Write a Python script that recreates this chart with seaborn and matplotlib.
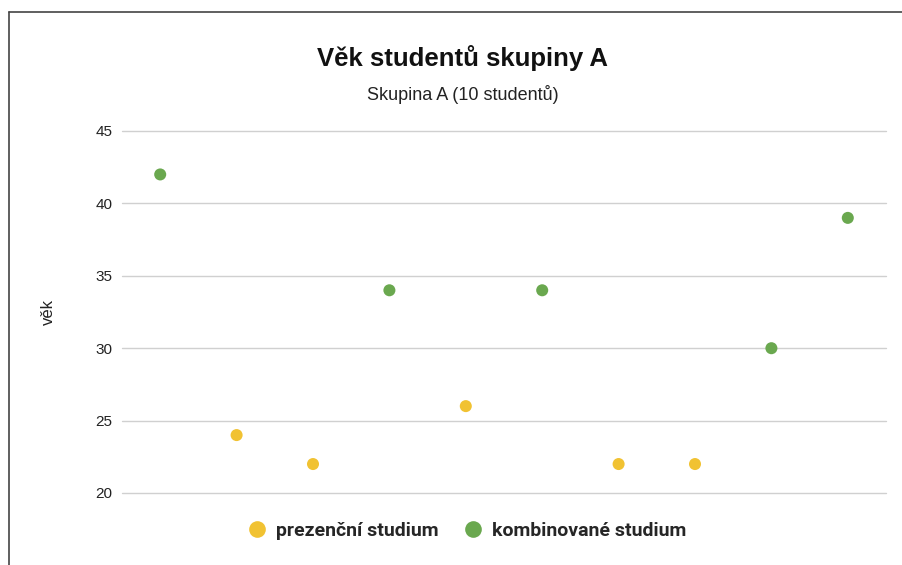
import seaborn as sns
import matplotlib.pyplot as plt
import pandas as pd
from matplotlib.lines import Line2D

# data
students = [1, 2, 3, 4, 5, 6, 7, 8, 9, 10]
ages = [42, 24, 22, 34, 26, 34, 22, 22, 30, 39]
study = ["kombinované studium", "prezenční studium", "prezenční studium",
         "kombinované studium", "prezenční studium", "kombinované studium",
         "prezenční studium", "prezenční studium", "kombinované studium",
         "kombinované studium"]
groups = ["prezenční studium", "kombinované studium"]
colors = {"prezenční studium": "#f1c232", "kombinované studium": "#6aa84f"}
yticks = [20, 25, 30, 35, 40, 45]

df = pd.DataFrame({"student": students, "vek": ages, "studium": study})

sns.set_style("white")
plt.rcParams['font.family'] = ['Liberation Sans', 'DejaVu Sans']

fig = plt.figure(figsize=(9.03, 5.65), dpi=100)
ax = fig.add_axes([122/903, 1-493/565, 764/903, 362/565])

sns.scatterplot(data=df, x="student", y="vek", hue="studium", hue_order=groups,
                palette=colors, s=75, edgecolor="none", ax=ax, legend=False, zorder=3)

ax.set_xlim(0.5, 10.5)
ax.set_ylim(20, 45)
ax.set_yticks(yticks)
ax.set_xticks([])
ax.grid(axis="y", color="#d0d0d0", linewidth=1)
for line in ax.get_ygridlines():
    line.set_clip_on(False)
for s in ax.spines.values():
    s.set_visible(False)
ax.tick_params(axis="y", length=0, labelsize=11, labelcolor="#222222", pad=7)
ax.set_xlabel("")
ax.set_ylabel("věk", fontsize=12, color="#222222")
ax.yaxis.set_label_coords((56-122)/764, 0.5)

fig.text(463/903, 1-58/565, "Věk studentů skupiny A", ha="center", va="center",
         fontsize=18.5, fontweight="bold", color="#111111")
fig.text(463/903, 1-95/565, "Skupina A (10 studentů)", ha="center", va="center",
         fontsize=13, color="#222222")

handles = [Line2D([], [], marker="o", linestyle="", markersize=12,
                  markerfacecolor=colors[g], markeredgecolor="none") for g in groups]
leg = fig.legend(handles, groups, loc="center", bbox_to_anchor=(466/903, 1-531/565),
                 ncol=2, frameon=False, handletextpad=0.35, columnspacing=1.2,
                 handlelength=1.2,
                 prop={"family": ["Roboto", "DejaVu Sans"], "weight": "bold", "size": 14})

# frame lines at left and top
fig.add_artist(Line2D([9/903, 9/903], [0, 1-12/565], color="#444444", linewidth=1.2,
                      transform=fig.transFigure))
fig.add_artist(Line2D([9/903, 1], [1-12/565, 1-12/565], color="#444444", linewidth=1.2,
                      transform=fig.transFigure))

fig.savefig("out.png", dpi=100)
